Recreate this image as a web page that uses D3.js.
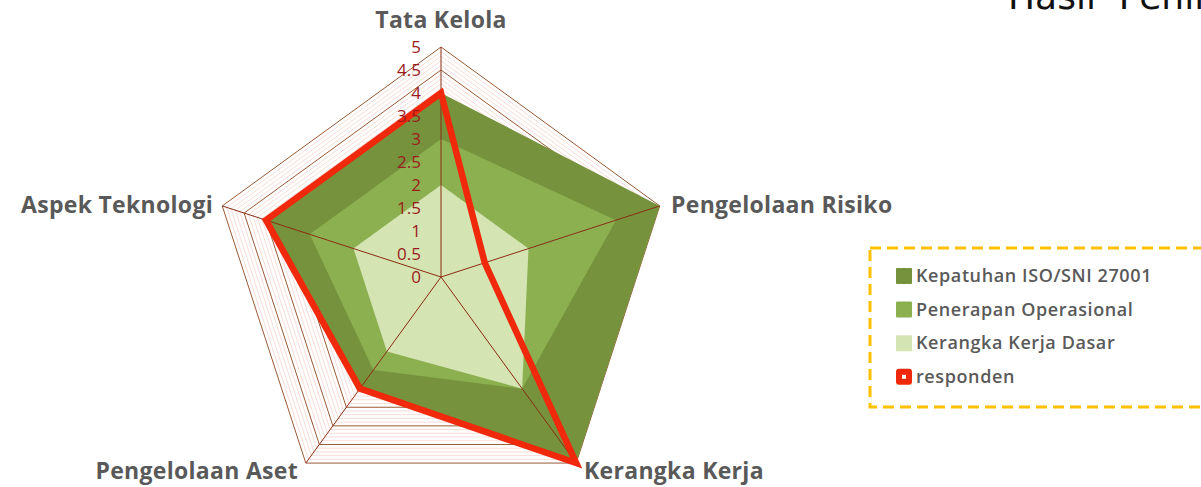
<!DOCTYPE html>
<html>
<head>
<meta charset="utf-8">
<script src="https://cdn.jsdelivr.net/npm/d3@7"></script>
<style>
    body { margin: 0; background: #fff; }
    svg { display: block; }
</style>
</head>
<body>
<svg class="radar"></svg>
<script>
// chart data
const categories = ["Tata Kelola", "Pengelolaan Risiko", "Kerangka Kerja", "Pengelolaan Aset", "Aspek Teknologi"];
const kepatuhan = [4, 5, 5, 3, 4];
const penerapan = [3, 4, 3, 2.5, 3];
const kerangkaDasar = [2, 2, 3, 2, 2];
const responden = [4, 1, 5, 3, 4];
const tickValues = [0, 0.5, 1, 1.5, 2, 2.5, 3, 3.5, 4, 4.5, 5];
const seriesNames = ["Kepatuhan ISO/SNI 27001", "Penerapan Operasional", "Kerangka Kerja Dasar", "responden"];

document.addEventListener('DOMContentLoaded', function(){
    drawRadar();
});

function drawRadar() {
    const width = 1201, height = 487;
    const cx = 441, cy = 277, R = 230;

    const svg = d3.select(".radar")
        .attr("width", width)
        .attr("height", height);

    const r = d3.scaleLinear().domain([0, 5]).range([0, R]);
    const angle = i => i * 2 * Math.PI / categories.length;
    const pt = (v, i) => [cx + r(v) * Math.sin(angle(i)), cy - r(v) * Math.cos(angle(i))];
    const ring = v => categories.map((c, i) => pt(v, i));
    const poly = d3.line().curve(d3.curveLinearClosed);

    // minor grid
    const minor = d3.range(1, 50).map(d => d / 10).filter(d => Math.abs(d * 2 - Math.round(d * 2)) > 0.01);
    svg.append("g").selectAll("path")
        .data(minor)
        .enter()
        .append("path")
        .attr("d", d => poly(ring(d)))
        .attr("fill", "none")
        .attr("stroke", "#f3cdc6")
        .attr("stroke-width", 0.7);

    // major grid
    svg.append("g").selectAll("path")
        .data(tickValues.filter(d => d > 0))
        .enter()
        .append("path")
        .attr("d", d => poly(ring(d)))
        .attr("fill", "none")
        .attr("stroke", "#9a5a36")
        .attr("stroke-width", 1);

    // filled series
    const fills = [
        {values: kepatuhan, color: "#76923c"},
        {values: penerapan, color: "#8cb050"},
        {values: kerangkaDasar, color: "#d4e4b3"}
    ];
    svg.append("g").selectAll("path")
        .data(fills)
        .enter()
        .append("path")
        .attr("d", s => poly(s.values.map((v, i) => pt(v, i))))
        .attr("fill", s => s.color);

    // spokes
    svg.append("g").selectAll("line")
        .data(categories)
        .enter()
        .append("line")
        .attr("x1", cx)
        .attr("y1", cy)
        .attr("x2", (d, i) => pt(5, i)[0])
        .attr("y2", (d, i) => pt(5, i)[1])
        .attr("stroke", "#8b2c12")
        .attr("stroke-width", 1);

    // responden line
    svg.append("path")
        .attr("d", poly(responden.map((v, i) => pt(v, i))))
        .attr("fill", "none")
        .attr("stroke", "#f0280c")
        .attr("stroke-width", 6.5)
        .attr("stroke-linejoin", "miter");

    // tick labels
    svg.append("g").selectAll("text")
        .data(tickValues)
        .enter()
        .append("text")
        .attr("x", cx - 20)
        .attr("y", d => cy - r(d) + 6)
        .attr("text-anchor", "end")
        .style("font-family", "Open Sans")
        .style("font-size", "17px")
        .style("fill", "#9b1c1c")
        .text(d => d);

    // category labels
    const labelPos = [
        {x: cx, y: 28, anchor: "middle"},
        {x: 671, y: 213, anchor: "start"},
        {x: 584, y: 479, anchor: "start"},
        {x: 298, y: 479, anchor: "end"},
        {x: 213, y: 213, anchor: "end"}
    ];
    svg.append("g").selectAll("text")
        .data(categories)
        .enter()
        .append("text")
        .attr("x", (d, i) => labelPos[i].x)
        .attr("y", (d, i) => labelPos[i].y)
        .attr("text-anchor", (d, i) => labelPos[i].anchor)
        .style("font-family", "Open Sans")
        .style("font-size", "23px")
        .style("font-weight", "700")
        .style("letter-spacing", "0.3px")
        .style("fill", "#595959")
        .text(d => d);

    // title (cut off at the right edge)
    svg.append("text")
        .attr("x", 1008)
        .attr("y", 9)
        .style("font-family", "DejaVu Sans")
        .style("font-size", "36px")
        .style("fill", "#111")
        .style("white-space", "pre")
        .text("Hasil  Penilaian");

    // legend
    const legend = svg.append("g");
    legend.append("rect")
        .attr("x", 870)
        .attr("y", 248)
        .attr("width", 400)
        .attr("height", 159)
        .attr("fill", "none")
        .attr("stroke", "#ffc000")
        .attr("stroke-width", 3)
        .attr("stroke-dasharray", "11,6");

    const legendColors = ["#76923c", "#8cb050", "#d4e4b3", "#f0280c"];
    const items = legend.selectAll("g.item")
        .data(seriesNames)
        .enter()
        .append("g")
        .attr("class", "item")
        .attr("transform", (d, i) => `translate(896,${276 + i * 33.6})`);

    items.append("rect")
        .attr("x", 0)
        .attr("y", -8)
        .attr("width", 16)
        .attr("height", 16)
        .attr("rx", (d, i) => i === 3 ? 3 : 1)
        .attr("fill", (d, i) => legendColors[i]);

    items.filter((d, i) => i === 3)
        .append("rect")
        .attr("x", 6)
        .attr("y", -2)
        .attr("width", 4)
        .attr("height", 4)
        .attr("fill", "#fff");

    items.append("text")
        .attr("x", 20)
        .attr("y", 6)
        .style("font-family", "Open Sans")
        .style("font-size", "18px")
        .style("font-weight", "600")
        .style("letter-spacing", "0.6px")
        .style("fill", "#595959")
        .text(d => d);
}
</script>
</body>
</html>
